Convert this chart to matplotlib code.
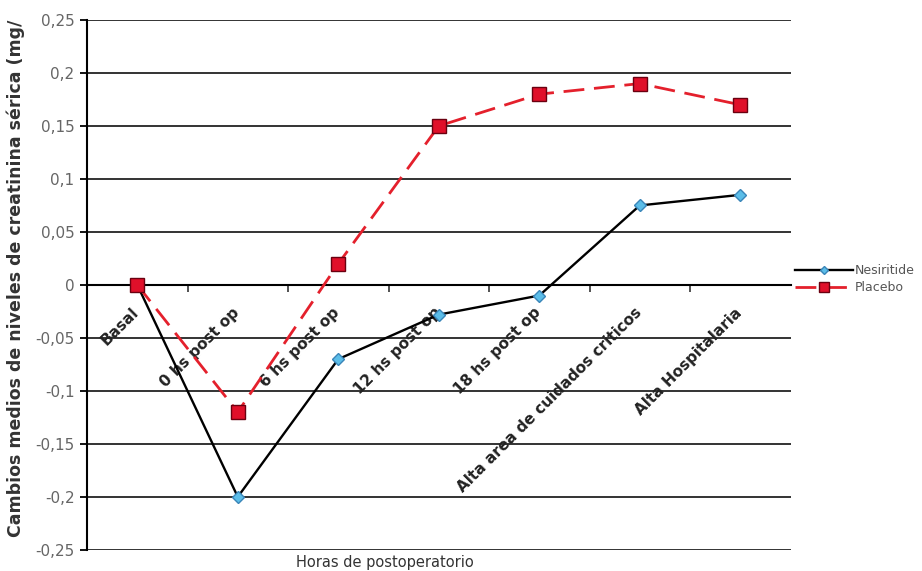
import matplotlib.pyplot as plt
from matplotlib.transforms import offset_copy

categorias = ['Basal', '0 hs post op', '6 hs post op', '12 hs post op',
              '18 hs post op', 'Alta area de cuidados criticos', 'Alta Hospitalaria']
nesiritide = [0, -0.2, -0.07, -0.028, -0.01, 0.075, 0.085]
placebo = [0, -0.12, 0.02, 0.15, 0.18, 0.19, 0.17]
yticks = [-0.25, -0.2, -0.15, -0.1, -0.05, 0, 0.05, 0.1, 0.15, 0.2, 0.25]
ytick_labels = ['-0,25', '-0,2', '-0,15', '-0,1', '-0,05', '0', '0,05', '0,1', '0,15', '0,2', '0,25']

fig = plt.figure(figsize=(9.22, 5.71), dpi=100)
ax = fig.add_axes([0.0944, 0.037, 0.763, 0.928])

x = list(range(len(categorias)))
ax.plot(x, nesiritide, color='black', lw=1.7, marker='D', markersize=6,
        markerfacecolor='#5bbde8', markeredgecolor='#3a85b8', label='Nesiritide', zorder=4)
ax.plot(x, placebo, color='#e4202c', lw=2.0, dashes=(7.5, 3.5), marker='s', markersize=10,
        markerfacecolor='#e0102a', markeredgecolor='#6a0010', label='Placebo', zorder=5)

ax.set_xlim(-0.5, 6.5)
ax.set_ylim(-0.25, 0.25)
ax.set_yticks(yticks)
ax.set_yticklabels(ytick_labels, color='#666666', fontsize=11)
ax.yaxis.grid(True, color='#333333', lw=1.4)
ax.set_axisbelow(True)

ax.spines['top'].set_visible(False)
ax.spines['right'].set_visible(False)
ax.spines['left'].set_color('black')
ax.spines['left'].set_linewidth(1.5)
ax.spines['bottom'].set_position(('data', 0))
ax.spines['bottom'].set_color('black')
ax.spines['bottom'].set_linewidth(1.5)
ax.tick_params(axis='y', length=5, width=1.3, color='black', pad=4)
ax.set_xticks([0.5, 1.5, 2.5, 3.5, 4.5, 5.5])
ax.tick_params(axis='x', length=5, width=1.2, color='#333333', labelbottom=False)

trans = offset_copy(ax.transData, fig=fig, x=-6, y=-20, units='dots')
for i, cat in enumerate(categorias):
    ax.text(i, 0, cat, transform=trans, rotation=45, rotation_mode='anchor',
            ha='right', va='top', fontsize=11, fontweight='bold', color='#222222')

fig.text(385 / 922, 1 - 562 / 571, 'Horas de postoperatorio', ha='center', va='center',
         fontsize=10.5, color='#333333')
fig.text(16 / 922, 1 - 278 / 571, 'Cambios medios de niveles de creatinina sérica (mg/',
         rotation=90, ha='center', va='center', fontsize=12.5, fontweight='bold', color='#333333')

fig.legend(loc='center left', bbox_to_anchor=(795 / 922, 1 - 279 / 571), frameon=False,
           fontsize=9, labelcolor='#555555', handlelength=4.6, handletextpad=0.15,
           labelspacing=0.3, borderaxespad=0, borderpad=0, markerscale=0.75)

fig.savefig('out.png', dpi=100)
